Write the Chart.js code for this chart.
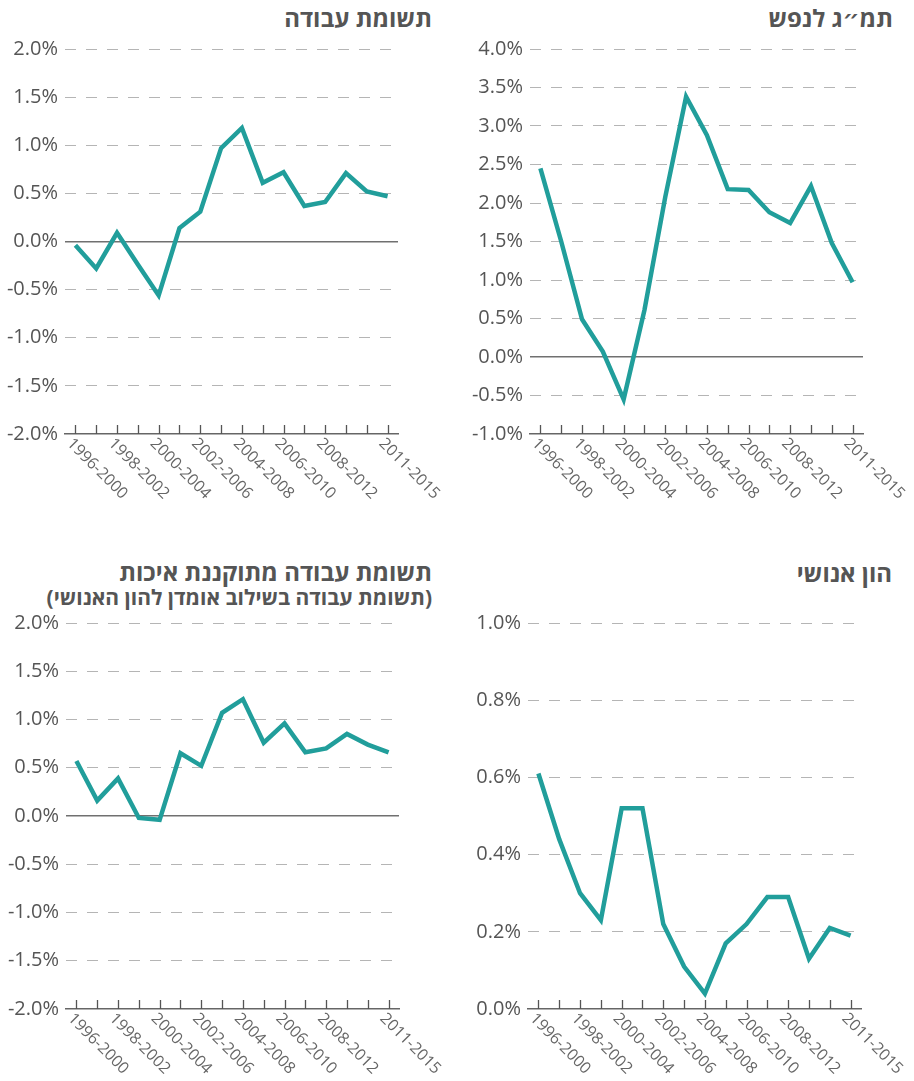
<!DOCTYPE html>
<html>
<head>
<meta charset="utf-8">
<script src="https://cdn.jsdelivr.net/npm/chart.js@4.4.1/dist/chart.umd.min.js"></script>
<style>
  html, body { margin: 0; padding: 0; background: #fff; }
  body { width: 914px; height: 1081px; position: relative; overflow: hidden; font-family: 'Open Sans', 'DejaVu Sans', sans-serif; }
  .t { position: absolute; direction: rtl; text-align: right; font-weight: 700; color: #555; white-space: nowrap; }
  .c { position: absolute; }
</style>
</head>
<body>
<div class="t" id="t1" style="right:482px; top:3px; font-size:24px; line-height:30px;"></div>
<div class="t" id="t2" style="right:21px; top:3px; font-size:24px; line-height:30px;"></div>
<div class="t" id="t3" style="right:482px; top:557px; font-size:24px; line-height:30px;"></div>
<div class="t" id="t3s" style="right:482px; top:584px; font-size:21px; line-height:26px;"></div>
<div class="t" id="t4" style="right:22px; top:558px; font-size:24px; line-height:30px;"></div>

<div class="c" style="left:0; top:30px; width:457px; height:490px;"><canvas id="c1" width="457" height="490"></canvas></div>
<div class="c" style="left:457px; top:30px; width:457px; height:490px;"><canvas id="c2" width="457" height="490"></canvas></div>
<div class="c" style="left:0; top:600px; width:457px; height:481px;"><canvas id="c3" width="457" height="481"></canvas></div>
<div class="c" style="left:457px; top:600px; width:457px; height:481px;"><canvas id="c4" width="457" height="481"></canvas></div>

<script>
// ---------- DATA ----------
const categories = ['1996-2000','1997-2001','1998-2002','1999-2003','2000-2004','2001-2005','2002-2006','2003-2007',
                    '2004-2008','2005-2009','2006-2010','2007-2011','2008-2012','2009-2013','2010-2014','2011-2015'];
const shownXLabels = ['1996-2000','1998-2002','2000-2004','2002-2006','2004-2008','2006-2010','2008-2012','2011-2015'];

const titleLaborInput = 'תשומת עבודה';
const titleGdpPerCapita = 'תמ״ג לנפש';
const titleQualityLabor = 'תשומת עבודה מתוקננת איכות';
const subtitleQualityLabor = '(תשומת עבודה בשילוב אומדן להון האנושי)';
const titleHumanCapital = 'הון אנושי';

// values in percent
const laborInput =    [-0.04, -0.28, 0.09, -0.24, -0.56, 0.14, 0.31, 0.97, 1.18, 0.61, 0.72, 0.37, 0.41, 0.71, 0.52, 0.47];
const gdpPerCapita =  [2.45, 1.50, 0.49, 0.07, -0.55, 0.61, 2.08, 3.38, 2.88, 2.18, 2.17, 1.88, 1.74, 2.22, 1.48, 0.97];
const qualityLabor =  [0.57, 0.16, 0.39, -0.02, -0.04, 0.65, 0.52, 1.07, 1.21, 0.76, 0.96, 0.66, 0.70, 0.85, 0.74, 0.66];
const humanCapital =  [0.61, 0.44, 0.30, 0.23, 0.52, 0.52, 0.22, 0.11, 0.04, 0.17, 0.22, 0.29, 0.29, 0.13, 0.21, 0.19];

// y-axis tick ranges [min, max, step]
const yLaborTicks = [-2, 2, 0.5];
const yGdpTicks = [-1, 4, 0.5];
const yQualityTicks = [-2, 2, 0.5];
const yHumanTicks = [0, 1, 0.2];

// ---------- RENDER ----------
document.getElementById('t1').textContent = titleLaborInput;
document.getElementById('t2').textContent = titleGdpPerCapita;
document.getElementById('t3').textContent = titleQualityLabor;
document.getElementById('t3s').textContent = subtitleQualityLabor;
document.getElementById('t4').textContent = titleHumanCapital;

const FONT = "'Open Sans', 'DejaVu Sans', sans-serif";
const LINE_COLOR = '#219e9b';

const xDecor = {
  id: 'xDecor',
  afterDraw(chart) {
    const ctx = chart.ctx;
    const xs = chart.scales.x;
    const bottom = chart.chartArea.bottom;
    ctx.save();
    ctx.strokeStyle = '#555';
    ctx.lineWidth = 1.3;
    categories.forEach((c, i) => {
      const x = Math.round(xs.getPixelForValue(i)) + 0.5;
      ctx.beginPath();
      ctx.moveTo(x, bottom);
      ctx.lineTo(x, bottom - 9);
      ctx.stroke();
    });
    ctx.fillStyle = '#666';
    ctx.font = '16px ' + FONT;
    ctx.textAlign = 'left';
    ctx.textBaseline = 'middle';
    categories.forEach((c, i) => {
      if (!shownXLabels.includes(c)) return;
      const x = xs.getPixelForValue(i);
      ctx.save();
      ctx.translate(x - 6, bottom + 7);
      ctx.rotate(Math.PI / 4);
      ctx.fillText(c, 0, 0);
      ctx.restore();
    });
    ctx.restore();
  }
};

function makeChart(id, data, yt, box) {
  const [ymin, ymax, step] = yt;
  return new Chart(document.getElementById(id), {
    type: 'line',
    data: {
      labels: categories,
      datasets: [{
        data: data,
        borderColor: LINE_COLOR,
        borderWidth: 4.5,
        pointRadius: 0,
        pointHoverRadius: 0,
        tension: 0,
        fill: false
      }]
    },
    options: {
      responsive: false,
      animation: false,
      events: [],
      layout: { padding: { top: box.top, right: box.right, left: 0, bottom: 0 } },
      plugins: { legend: { display: false }, tooltip: { enabled: false }, title: { display: false } },
      scales: {
        x: {
          type: 'category',
          offset: true,
          afterFit(s) { s.height = box.xh; },
          ticks: { display: false },
          grid: { display: true, drawOnChartArea: false, drawTicks: false, offset: false },
          border: { display: true, color: '#666', width: 1.5 }
        },
        y: {
          min: ymin, max: ymax,
          afterFit(s) { s.width = box.yw; },
          ticks: {
            stepSize: step,
            padding: 7,
            color: '#555',
            font: { family: FONT, size: 20 },
            callback: v => Number(v).toFixed(1) + '%'
          },
          grid: {
            drawTicks: false,
            color: c => {
              const v = c.tick ? c.tick.value : null;
              if (v === null) return '#bbb';
              if (Math.abs(v - ymin) < 1e-9) return 'rgba(0,0,0,0)';
              if (Math.abs(v) < 1e-9) return '#707070';
              return '#b5b5b5';
            },
            lineWidth: c => (c.tick && Math.abs(c.tick.value) < 1e-9) ? 1.5 : 1
          },
          border: {
            display: false,
            dash: c => (c.tick && Math.abs(c.tick.value) < 1e-9) ? [] : [11, 10]
          }
        }
      }
    },
    plugins: [xDecor]
  });
}

makeChart('c1', laborInput, yLaborTicks, { top: 19, right: 59, yw: 65, xh: 86 });
makeChart('c2', gdpPerCapita, yGdpTicks, { top: 19, right: 51, yw: 73, xh: 86 });
makeChart('c3', qualityLabor, yQualityTicks, { top: 23, right: 58, yw: 66, xh: 72 });
makeChart('c4', humanCapital, yHumanTicks, { top: 23, right: 53, yw: 71, xh: 72 });
</script>
</body>
</html>
